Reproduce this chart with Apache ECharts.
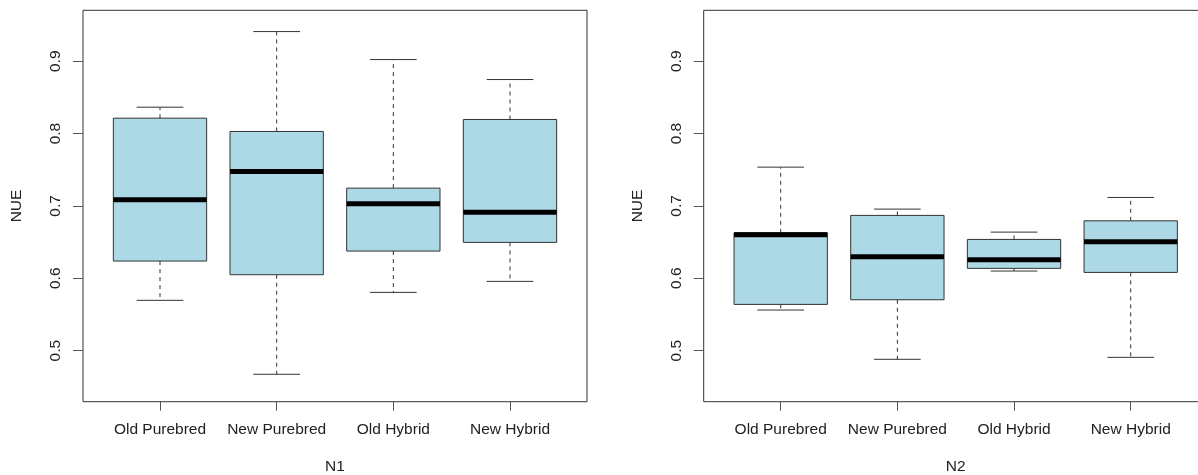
<!DOCTYPE html>
<html>
<head>
<meta charset="utf-8">
<script src="https://cdn.jsdelivr.net/npm/echarts@6/dist/echarts.min.js"></script>
<style>
	html, body { margin: 0; padding: 0; background: #fff; }
	#chart { width: 1198px; height: 475px; }
</style>
</head>
<body>
<div id="chart"></div>
<script>
const categories = ["Old Purebred", "New Purebred", "Old Hybrid", "New Hybrid"];
const yTicks = [0.5, 0.6, 0.7, 0.8, 0.9];

// N1 box stats: lower whisker, Q1, median, Q3, upper whisker
const n1Low    = [0.5695, 0.4673, 0.5805, 0.5957];
const n1Q1     = [0.6238, 0.6049, 0.6376, 0.6496];
const n1Median = [0.7084, 0.7476, 0.7029, 0.6914];
const n1Q3     = [0.8213, 0.8029, 0.7246, 0.8195];
const n1High   = [0.8365, 0.9410, 0.9023, 0.8747];

// N2 box stats
const n2Low    = [0.5561, 0.4880, 0.6100, 0.4907];
const n2Q1     = [0.5639, 0.5703, 0.6137, 0.6081];
const n2Median = [0.6601, 0.6297, 0.6256, 0.6504];
const n2Q3     = [0.6629, 0.6869, 0.6537, 0.6794];
const n2High   = [0.7536, 0.6956, 0.6638, 0.7117];

const font = "'Liberation Sans', Arial, sans-serif";
const ink = "#333";

const chart = echarts.init(document.getElementById("chart"), null, { renderer: "canvas" });

const rows = (low, q1, med, q3, high) =>
	categories.map((c, i) => [i + 1, low[i], q1[i], med[i], q3[i], high[i]]);

const renderBox = (params, api) => {
	const x = api.value(0);
	const low = api.coord([x, api.value(1)]);
	const q1 = api.coord([x, api.value(2)]);
	const med = api.coord([x, api.value(3)]);
	const q3 = api.coord([x, api.value(4)]);
	const high = api.coord([x, api.value(5)]);
	const boxW = api.size([0.8, 0])[0];
	const capW = api.size([0.4, 0])[0];
	const cx = low[0];
	const dash = { stroke: ink, lineWidth: 1, lineDash: [4, 4] };
	const solid = { stroke: ink, lineWidth: 1 };

	return {
		type     : "group",
		children : [
			{ type: "line", shape: { x1: cx, y1: q3[1], x2: cx, y2: high[1] }, style: dash },
			{ type: "line", shape: { x1: cx, y1: q1[1], x2: cx, y2: low[1] }, style: dash },
			{ type: "line", shape: { x1: cx - capW / 2, y1: high[1], x2: cx + capW / 2, y2: high[1] }, style: solid },
			{ type: "line", shape: { x1: cx - capW / 2, y1: low[1], x2: cx + capW / 2, y2: low[1] }, style: solid },
			{
				type  : "rect",
				shape : { x: cx - boxW / 2, y: q3[1], width: boxW, height: q1[1] - q3[1] },
				style : { fill: "#ADD8E6", stroke: ink, lineWidth: 1 },
			},
			{
				type  : "line",
				shape : { x1: cx - boxW / 2, y1: med[1], x2: cx + boxW / 2, y2: med[1] },
				style : { stroke: "#000", lineWidth: 5, lineCap: "butt" },
			},
		],
	};
};

const makeX = (gridIndex, name) => ({
	gridIndex,
	type          : "value",
	min           : 0.34,
	max           : 4.66,
	name,
	nameLocation  : "middle",
	nameGap       : 57,
	nameTextStyle : { fontFamily: font, fontSize: 15.5, color: "#222" },
	splitLine     : { show: false },
	axisLine      : { show: false },
	axisTick      : { show: true, length: 9, inside: false, customValues: [1, 2, 3, 4], lineStyle: { color: "#555" } },
	axisLabel     : {
		customValues : [1, 2, 3, 4],
		formatter    : v => categories[Math.round(v) - 1] ?? "",
		margin       : 20,
		fontFamily   : font,
		fontSize     : 15.5,
		color        : "#222",
	},
});

const makeY = (gridIndex) => ({
	gridIndex,
	type          : "value",
	min           : 0.4294,
	max           : 0.9704,
	name          : "NUE",
	nameLocation  : "middle",
	nameRotate    : 90,
	nameGap       : 58,
	nameTextStyle : { fontFamily: font, fontSize: 15.5, color: "#222" },
	splitLine     : { show: false },
	axisLine      : { show: false },
	axisTick      : { show: true, length: 10, inside: false, customValues: yTicks, lineStyle: { color: "#555" } },
	axisLabel     : {
		customValues : yTicks,
		rotate       : 90,
		margin       : 19,
		formatter    : v => v.toFixed(1),
		fontFamily   : font,
		fontSize     : 15.5,
		color        : "#222",
	},
});

const gridBase = {
	top             : 10.3,
	width           : 504,
	height          : 391.4,
	show            : true,
	borderColor     : ink,
	borderWidth     : 1,
	backgroundColor : "transparent",
	outerBoundsMode : "none",
	containLabel    : false,
};

chart.setOption({
	animation : false,
	grid      : [
		{ ...gridBase, left: 83 },
		{ ...gridBase, left: 703.7 },
	],
	xAxis  : [makeX(0, "N1"), makeX(1, "N2")],
	yAxis  : [makeY(0), makeY(1)],
	series : [
		{
			type       : "custom",
			xAxisIndex : 0,
			yAxisIndex : 0,
			renderItem : renderBox,
			encode     : { x: 0, y: [1, 2, 3, 4, 5] },
			data       : rows(n1Low, n1Q1, n1Median, n1Q3, n1High),
		},
		{
			type       : "custom",
			xAxisIndex : 1,
			yAxisIndex : 1,
			renderItem : renderBox,
			encode     : { x: 0, y: [1, 2, 3, 4, 5] },
			data       : rows(n2Low, n2Q1, n2Median, n2Q3, n2High),
		},
	],
});
</script>
</body>
</html>
